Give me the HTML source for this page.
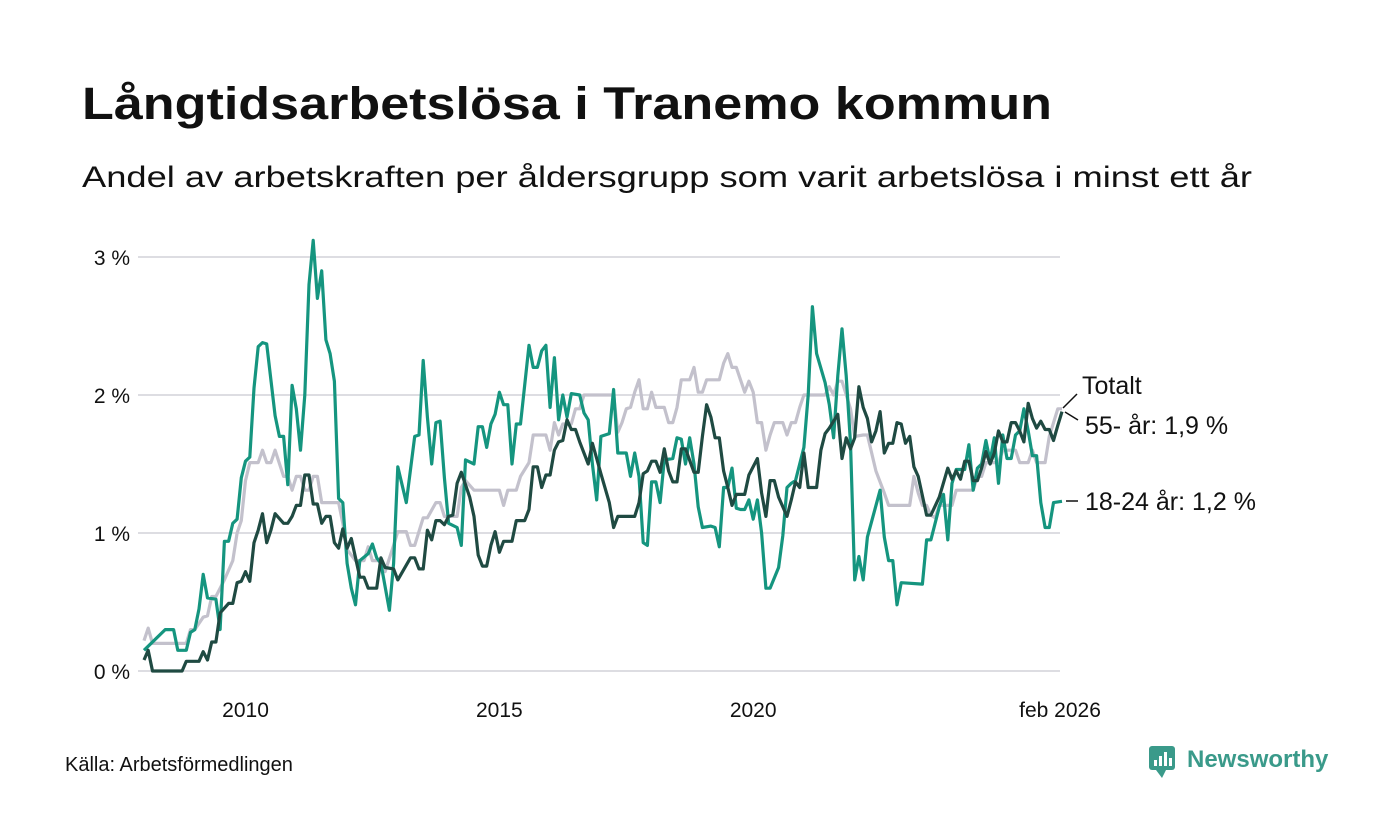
<!DOCTYPE html>
<html><head><meta charset="utf-8"><style>
body{margin:0;background:#fff;}
svg{display:block;font-family:"Liberation Sans","DejaVu Sans",sans-serif;}
</style></head><body>
<svg id="chart" width="1400" height="840" viewBox="0 0 1400 840">
<rect width="1400" height="840" fill="#fff"/>
<text x="82" y="119" font-size="45" font-weight="bold" fill="#111" textLength="970" lengthAdjust="spacingAndGlyphs">Långtidsarbetslösa i Tranemo kommun</text>
<text x="82" y="187" font-size="30" fill="#111" textLength="1170" lengthAdjust="spacingAndGlyphs">Andel av arbetskraften per åldersgrupp som varit arbetslösa i minst ett år</text>
<g id="grid"></g>
<g id="series"></g>
<g id="labels"></g>
<text x="65" y="771" font-size="20" fill="#111">Källa: Arbetsförmedlingen</text>
<g>
<rect x="1149" y="746" width="26" height="24" rx="3" fill="#3a9a8a"/>
<path d="M1156 770 L1162 778 L1166 770 Z" fill="#3a9a8a"/>
<rect x="1154" y="760" width="3" height="6" fill="#fff"/><rect x="1159" y="756" width="3" height="10" fill="#fff"/><rect x="1164" y="752" width="3" height="14" fill="#fff"/><rect x="1169" y="758" width="3" height="8" fill="#fff"/>
<text x="1187" y="767" font-size="24" font-weight="bold" fill="#3a9a8a">Newsworthy</text>
</g>
</svg>
<script>
// months since Jan 2008, values in %
const yTicks=[0,1,2,3];
const yTickLabels=["0 %","1 %","2 %","3 %"];
const xTicks=[24,84,144,217];
const xTickLabels=["2010","2015","2020","feb 2026"];
const youngMonths=[0,5,7,8,10,11,12,13,14,15,17,18,19,20,21,22,23,24,25,26,27,28,29,31,32,33,34,35,36,37,38,39,40,41,42,43,44,45,46,47,48,49,50,51,53,54,55,56,58,59,60,62,63,64,65,66,67,68,69,70,71,72,74,75,76,78,79,80,81,82,83,84,85,86,87,88,89,91,92,93,94,95,96,97,98,99,100,101,103,104,105,106,107,108,110,111,112,114,115,116,117,118,119,120,121,122,123,125,126,127,128,129,130,131,132,134,135,136,137,138,139,140,141,142,143,144,145,146,147,148,150,151,152,153,154,156,157,158,159,161,162,163,164,165,166,167,168,169,170,171,174,175,176,177,178,179,184,185,186,188,189,190,191,192,194,195,196,197,198,199,200,201,202,203,204,205,206,207,208,209,210,211,212,213,214,215,217];
const youngValues=[.15,.3,.3,.15,.15,.28,.3,.45,.7,.53,.52,.3,.94,.94,1.07,1.1,1.4,1.52,1.55,2.05,2.35,2.38,2.37,1.85,1.7,1.7,1.35,2.07,1.9,1.6,2.0,2.8,3.12,2.7,2.9,2.4,2.3,2.1,1.25,1.22,.78,.6,.48,.8,.85,.92,.82,.78,.44,.78,1.48,1.22,1.46,1.7,1.71,2.25,1.84,1.5,1.8,1.81,1.4,1.07,1.04,.91,1.53,1.5,1.77,1.77,1.62,1.79,1.86,2.02,1.93,1.93,1.5,1.79,1.79,2.36,2.2,2.2,2.32,2.36,1.91,2.27,1.82,2.0,1.84,2.01,2.0,1.87,1.82,1.5,1.24,1.7,1.72,2.04,1.58,1.58,1.41,1.58,1.41,.93,.91,1.37,1.37,1.22,1.53,1.54,1.69,1.68,1.5,1.69,1.5,1.19,1.04,1.05,1.04,.9,1.33,1.33,1.47,1.18,1.17,1.17,1.24,1.1,1.24,1.0,.6,.6,.75,.98,1.33,1.36,1.38,1.62,2.0,2.64,2.3,2.09,1.93,1.69,2.14,2.48,2.14,1.65,.66,.83,.66,.97,1.31,.97,.8,.8,.48,.64,.63,.95,.95,1.19,1.28,.95,1.36,1.46,1.46,1.64,1.31,1.47,1.5,1.67,1.52,1.69,1.36,1.71,1.54,1.54,1.71,1.74,1.9,1.74,1.56,1.56,1.22,1.04,1.04,1.22,1.23];
const totalMonths=[0,1,2,9,10,13,14,15,16,17,18,20,21,22,23,24,25,26,27,28,29,30,31,33,34,35,36,37,38,39,40,41,42,43,44,45,46,47,48,49,51,52,53,55,56,57,59,60,63,64,65,66,67,68,69,70,71,72,73,74,75,77,78,79,80,81,82,83,84,85,87,88,90,91,92,93,94,95,96,97,98,99,100,101,102,103,105,106,107,108,110,111,112,116,117,118,119,120,121,122,123,124,125,126,127,128,130,131,132,133,134,135,136,137,138,139,140,142,143,145,146,147,148,149,150,152,153,154,155,156,157,159,160,161,162,164,165,166,167,168,169,170,171,172,173,174,175,176,177,178,179,180,181,182,183,185,186,188,190,191,192,193,194,195,196,197,198,199,200,201,202,203,204,205,206,207,208,209,210,211,212,213,214,215,216,217];
const totalValues=[.08,.15,0,0,.07,.07,.14,.08,.21,.21,.42,.49,.49,.64,.65,.72,.65,.93,1.02,1.14,.93,1.02,1.14,1.07,1.07,1.12,1.2,1.2,1.42,1.42,1.21,1.21,1.07,1.12,1.12,.93,.89,1.03,.89,.96,.68,.68,.6,.6,.82,.75,.74,.66,.82,.82,.74,.74,1.02,.95,1.09,1.09,1.06,1.12,1.13,1.36,1.44,1.26,1.12,.84,.76,.76,.91,1.01,.86,.94,.94,1.09,1.09,1.17,1.48,1.48,1.33,1.42,1.42,1.6,1.66,1.67,1.82,1.75,1.75,1.66,1.5,1.65,1.54,1.43,1.22,1.04,1.12,1.12,1.22,1.43,1.45,1.52,1.52,1.44,1.61,1.45,1.37,1.37,1.61,1.61,1.44,1.44,1.7,1.93,1.84,1.69,1.69,1.45,1.33,1.2,1.28,1.28,1.42,1.54,1.29,1.12,1.38,1.38,1.26,1.12,1.24,1.37,1.33,1.58,1.33,1.33,1.6,1.72,1.76,1.86,1.54,1.69,1.61,1.69,2.06,1.91,1.83,1.66,1.74,1.88,1.58,1.65,1.65,1.8,1.79,1.65,1.7,1.48,1.41,1.13,1.13,1.26,1.47,1.39,1.45,1.39,1.52,1.52,1.38,1.38,1.47,1.59,1.5,1.58,1.74,1.66,1.66,1.8,1.8,1.74,1.66,1.94,1.83,1.76,1.81,1.75,1.75,1.67,1.78,1.88];
const oldMonths=[0,1,2,10,11,12,14,15,16,17,19,21,22,23,24,25,27,28,29,30,31,33,34,35,36,37,38,39,40,41,42,46,47,48,50,52,53,54,56,57,59,60,62,63,64,66,67,69,70,71,74,75,76,78,84,85,86,88,89,91,92,95,96,97,98,99,101,102,103,104,111,112,113,114,115,116,117,118,119,120,121,123,124,125,126,127,129,130,131,132,133,136,137,138,139,140,141,142,143,144,145,146,147,148,149,151,152,153,154,155,156,161,162,163,164,165,167,168,170,171,173,175,176,181,182,183,184,185,186,187,188,191,192,196,197,198,199,202,203,206,207,209,210,211,213,214,216,217];
const oldValues=[.22,.31,.2,.2,.3,.3,.39,.4,.54,.54,.66,.8,1.0,1.09,1.38,1.51,1.51,1.6,1.51,1.51,1.6,1.41,1.41,1.31,1.41,1.41,1.31,1.31,1.41,1.41,1.22,1.22,1.07,.88,.8,.8,.9,.8,.8,.72,.91,1.01,1.01,.91,.91,1.11,1.11,1.22,1.22,1.12,1.12,1.33,1.38,1.31,1.31,1.2,1.31,1.31,1.41,1.51,1.71,1.71,1.6,1.8,1.71,1.79,1.79,1.9,1.9,2.0,2.0,1.73,1.8,1.9,1.91,2.02,2.11,1.9,1.9,2.02,1.91,1.91,1.8,1.8,1.91,2.11,2.11,2.2,2.02,2.02,2.11,2.11,2.23,2.3,2.2,2.2,2.11,2.02,2.1,2.02,1.8,1.8,1.6,1.71,1.8,1.8,1.71,1.8,1.8,1.91,2.0,2.0,2.06,2.0,2.1,2.1,1.9,1.7,1.71,1.71,1.45,1.29,1.2,1.2,1.41,1.29,1.2,1.2,1.13,1.11,1.2,1.2,1.31,1.31,1.41,1.41,1.51,1.51,1.6,1.6,1.51,1.51,1.6,1.51,1.51,1.7,1.9,1.9];

const NS="http://www.w3.org/2000/svg";
const X0=144,X1=1062,M0=0,M1=217,Y0=671,YPER=138;
function xScale(m){return X0+(m-M0)*(X1-X0)/(M1-M0);}
function yScale(v){return Y0-v*YPER;}
function mk(tag,attrs,parent){const e=document.createElementNS(NS,tag);for(const k in attrs)e.setAttribute(k,attrs[k]);parent.appendChild(e);return e;}
const grid=document.getElementById('grid');
yTicks.forEach((t,i)=>{
  const l=mk('line',{x1:138,x2:1060,y1:yScale(t),y2:yScale(t),stroke:'#dddde2','stroke-width':2},grid);
  
  
  const tx=mk('text',{x:130,y:yScale(t)+8,'font-size':21,'text-anchor':'end',fill:'#111'},grid);
  tx.textContent=yTickLabels[i];
  
  
});
xTicks.forEach((t,i)=>{
  const tx=mk('text',{x:i===3?1060:xScale(t),y:717,'font-size':21,'text-anchor':'middle',fill:'#111'},grid);
  tx.textContent=xTickLabels[i];
  
  
});
const ser=document.getElementById('series');
function line(ms,vs,color,name){
  const d=ms.map((m,i)=>(i?'L':'M')+xScale(m).toFixed(1)+' '+yScale(vs[i]).toFixed(1)).join(' ');
  const p=mk('path',{d:d,fill:'none',stroke:color,'stroke-width':3.2,'stroke-linejoin':'round'},ser);
  
  
}
line(oldMonths,oldValues,'#c3c1cc','line-55-plus');
line(youngMonths,youngValues,'#15957f','line-18-24');
line(totalMonths,totalValues,'#1f4a42','line-total');
const lab=document.getElementById('labels');
function label(txt,x,y,name){const t=mk('text',{x:x,y:y,'font-size':25,fill:'#111'},lab);t.textContent=txt;
  
  }
label('Totalt',1082,394,'label-total');
label('55- år: 1,9 %',1085,434,'label-55-plus');
label('18-24 år: 1,2 %',1085,510,'label-18-24');
mk('line',{x1:1063,y1:408,x2:1077,y2:394,stroke:'#111','stroke-width':1.5},lab);
mk('line',{x1:1065,y1:412,x2:1078,y2:420,stroke:'#111','stroke-width':1.5},lab);
mk('line',{x1:1066,y1:501,x2:1078,y2:501,stroke:'#111','stroke-width':1.5},lab);
</script>
</body></html>
